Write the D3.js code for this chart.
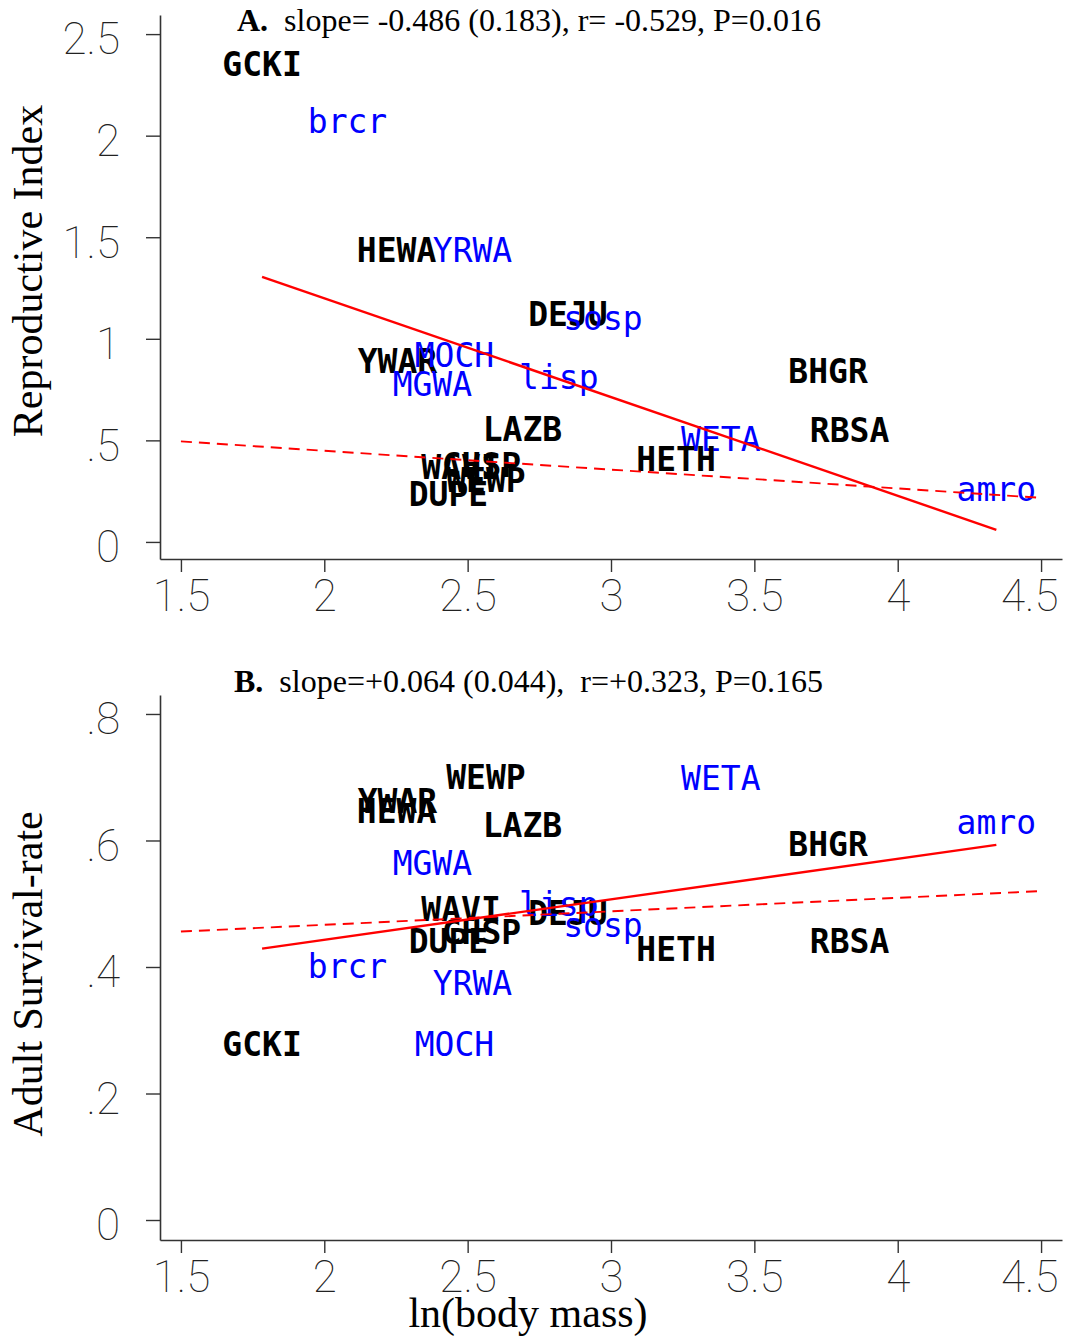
<!DOCTYPE html>
<html>
<head>
<meta charset="utf-8">
<script src="https://cdn.jsdelivr.net/npm/d3@7"></script>
<style>
  html, body { margin: 0; padding: 0; background: #fff; }
  svg { display: block; }
  .tick-label { font-family: Roboto, "Liberation Sans", sans-serif; font-weight: 100; font-size: 44px; fill: #222; }
  .spp { font-family: "DejaVu Sans Mono", monospace; font-size: 33px; }
  .serif { font-family: "Liberation Serif", "Times New Roman", serif; fill: #000; }
</style>
</head>
<body>
<svg id="chart" width="1065" height="1337"></svg>
<script>
// Species codes (blue = lowercase / secondary group, black = primary group)
const species = ["GCKI","brcr","HEWA","YRWA","DEJU","sosp","YWAR","MOCH","MGWA","lisp",
                 "BHGR","LAZB","RBSA","WETA","HETH","WAVI","CHSP","WEWP","DUPE","amro"];
const blueGroup = ["brcr","YRWA","sosp","MOCH","MGWA","lisp","WETA","amro"];

// ln(body mass)
const lnMass = [1.783, 2.081, 2.252, 2.517, 2.850, 2.972, 2.255, 2.454, 2.377, 2.818,
                3.757, 2.691, 3.832, 3.383, 3.227, 2.477, 2.548, 2.564, 2.433, 4.344];
// Reproductive index
const reproIndex = [2.352, 2.074, 1.437, 1.437, 1.122, 1.100, 0.891, 0.920, 0.778, 0.814,
                    0.842, 0.556, 0.551, 0.509, 0.408, 0.369, 0.379, 0.305, 0.236, 0.263];
// Adult survival rate
const survival = [0.278, 0.401, 0.647, 0.375, 0.486, 0.466, 0.662, 0.279, 0.564, 0.500,
                  0.594, 0.625, 0.441, 0.699, 0.428, 0.491, 0.455, 0.700, 0.441, 0.630];

// Fitted lines: solid = OLS on species values, dashed = second fit across full axis
const fitA = { slope: -0.486, intercept: 2.171 };
const fitB = { slope: 0.064, intercept: 0.315 };
const dashedAx = [1.5, 4.5], dashedAy = [0.495, 0.217];
const dashedBx = [1.5, 4.5], dashedBy = [0.456, 0.520];

// Tick values and labels
const xTicks = [1.5, 2, 2.5, 3, 3.5, 4, 4.5];
const xTickLabels = ["1.5","2","2.5","3","3.5","4","4.5"];
const yTicksA = [0, 0.5, 1, 1.5, 2, 2.5];
const yTickLabelsA = ["0",".5","1","1.5","2","2.5"];
const yTicksB = [0, 0.2, 0.4, 0.6, 0.8];
const yTickLabelsB = ["0",".2",".4",".6",".8"];

const W = 1065;
const svg = d3.select("#chart");

const x = d3.scaleLinear().domain([1.427, 4.573]).range([160, 1062]);

function panel(opts) {
  const g = svg.append("g");
  const y = d3.scaleLinear().domain(opts.yDomain).range(opts.yRange);
  const axisColor = "#333";

  // y axis
  const ya = d3.axisLeft(y).tickValues(opts.yTicks).tickSize(14).tickSizeOuter(0)
    .tickFormat((d, i) => opts.yLabels[i]).tickPadding(26);
  const yg = g.append("g").attr("transform", "translate(160,0)").call(ya);
  // x axis
  const xa = d3.axisBottom(x).tickValues(xTicks).tickSize(13).tickSizeOuter(0)
    .tickFormat((d, i) => xTickLabels[i]).tickPadding(8);
  const xg = g.append("g").attr("transform", `translate(0,${opts.yRange[0]})`).call(xa);

  [yg, xg].forEach(a => {
    a.select(".domain").attr("stroke", axisColor).attr("stroke-width", 1.6);
    a.selectAll(".tick line").attr("stroke", axisColor).attr("stroke-width", 1.4);
    a.selectAll(".tick text").attr("class", "tick-label").attr("font-size", null)
      .attr("font-family", null).attr("fill", null);
  });
  xg.selectAll(".tick text").attr("dy", "0.71em");
  yg.selectAll(".tick text").attr("dy", "0.45em");
  // keep the last x label inside the graph edge
  xg.selectAll(".tick text").each(function () {
    const bb = this.getBBox();
    const tx = x(d3.select(this.parentNode).datum());
    const over = tx + bb.x + bb.width - (W - 7);
    if (over > 0) d3.select(this).attr("x", -over);
  });

  // species labels
  g.append("g").selectAll("text").data(species).join("text")
    .attr("class", "spp")
    .attr("x", (d, i) => x(lnMass[i]))
    .attr("y", (d, i) => y(opts.values[i]) + 12)
    .attr("text-anchor", "middle")
    .attr("fill", d => blueGroup.includes(d) ? "#0000ff" : "#000")
    .attr("font-weight", d => blueGroup.includes(d) ? "normal" : "bold")
    .text(d => d);

  // dashed fit
  const line = d3.line().x(d => x(d[0])).y(d => y(d[1]));
  g.append("path")
    .datum([[opts.dashX[0], opts.dashY[0]], [opts.dashX[1], opts.dashY[1]]])
    .attr("d", line).attr("fill", "none").attr("stroke", "#ff0000")
    .attr("stroke-width", 1.9).attr("stroke-dasharray", "11,7");

  // solid fit over the species range
  const [xmin, xmax] = d3.extent(lnMass);
  g.append("path")
    .datum([xmin, xmax].map(v => [v, opts.fit.intercept + opts.fit.slope * v]))
    .attr("d", line).attr("fill", "none").attr("stroke", "#ff0000").attr("stroke-width", 2.4);

  // panel title
  const t = g.append("text").attr("class", "serif").attr("x", opts.titleX).attr("y", opts.titleY)
    .attr("font-size", 32).style("white-space", "pre");
  t.append("tspan").attr("font-weight", "bold").text(opts.titleLetter);
  t.append("tspan").text(opts.titleText);

  // y axis title
  g.append("text").attr("class", "serif").attr("font-size", 42)
    .attr("text-anchor", "middle")
    .attr("transform", `translate(42,${opts.yTitleCenter}) rotate(-90)`)
    .text(opts.yTitle);
}

panel({
  yDomain: [-0.084, 2.594], yRange: [559, 15],
  yTicks: yTicksA, yLabels: yTickLabelsA, values: reproIndex,
  fit: fitA, dashX: dashedAx, dashY: dashedAy,
  titleLetter: "A.", titleText: "  slope= -0.486 (0.183), r= -0.529, P=0.016",
  titleX: 237, titleY: 31,
  yTitle: "Reproductive Index", yTitleCenter: 271
});

panel({
  yDomain: [-0.0316, 0.830], yRange: [1240, 695],
  yTicks: yTicksB, yLabels: yTickLabelsB, values: survival,
  fit: fitB, dashX: dashedBx, dashY: dashedBy,
  titleLetter: "B.", titleText: "  slope=+0.064 (0.044),  r=+0.323, P=0.165",
  titleX: 234, titleY: 692,
  yTitle: "Adult Survival-rate", yTitleCenter: 974
});

// shared x axis title
svg.append("text").attr("class", "serif").attr("font-size", 42)
  .attr("x", 528).attr("y", 1327).attr("text-anchor", "middle")
  .text("ln(body mass)");
</script>
</body>
</html>
